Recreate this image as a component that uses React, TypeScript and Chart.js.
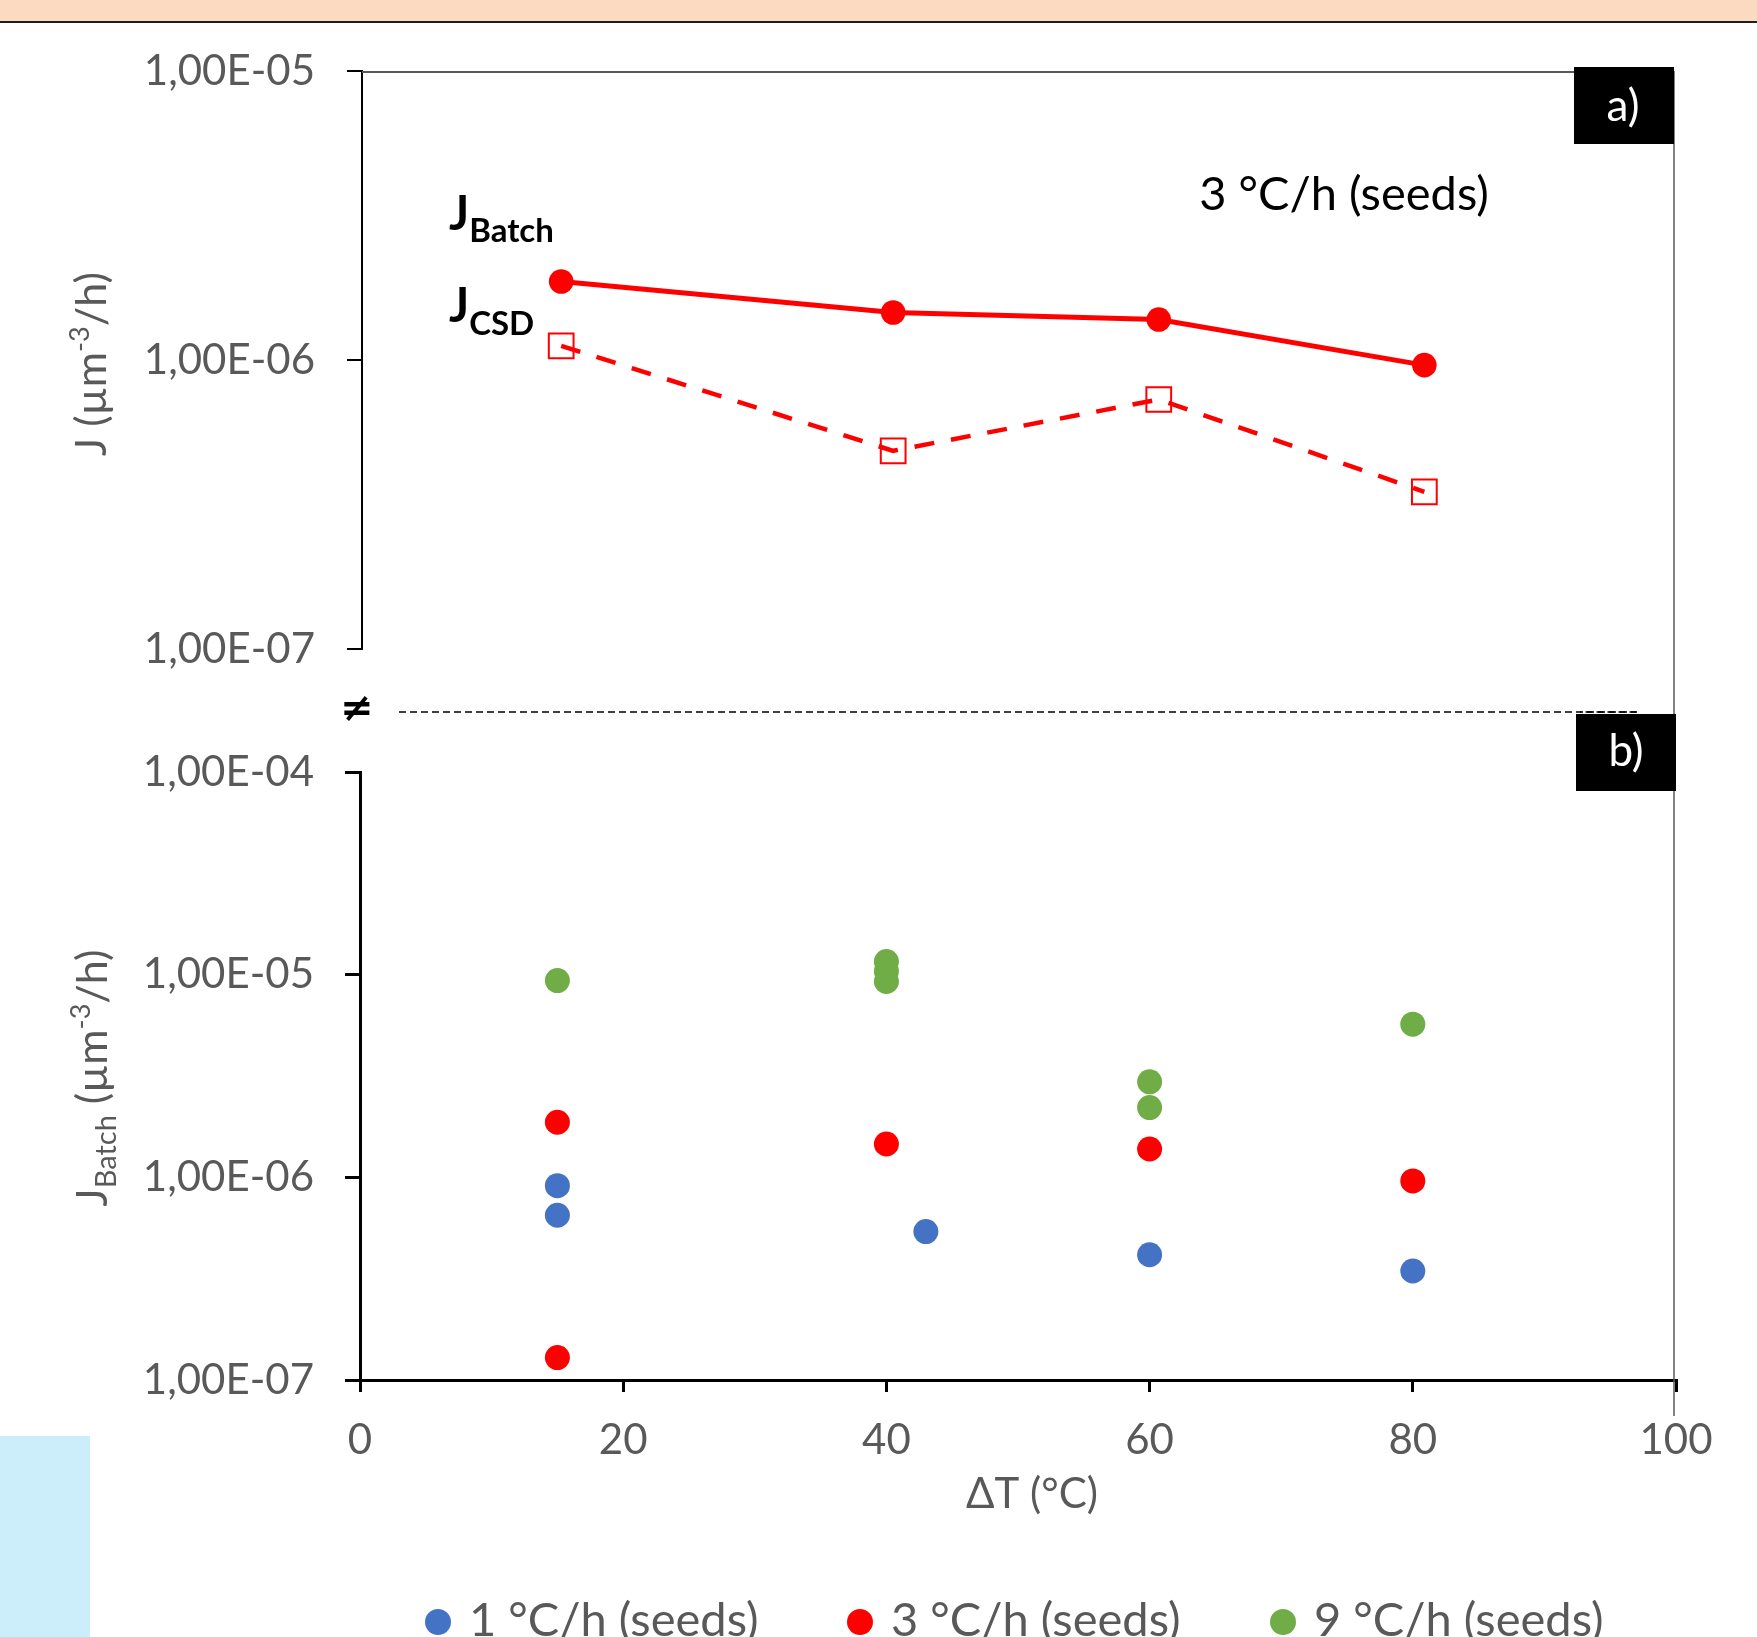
import React, { useEffect, useRef } from 'react';
import { Chart, registerables } from 'chart.js';

Chart.register(...registerables);

const FAMILY = 'Lato, "DejaVu Sans", sans-serif';
const GRAY = '#595959';

// ---------------- data ----------------
// panel a) : 3 °C/h (seeds)
const topDeltaT = [15, 40, 60, 80];
const topJBatch = [1.87e-6, 1.46e-6, 1.38e-6, 9.6e-7];
const topJCSD = [1.12e-6, 4.85e-7, 7.3e-7, 3.5e-7];

// panel b) : J_Batch for three cooling rates
const seriesLabels = ['1 °C/h (seeds)', '3 °C/h (seeds)', '9 °C/h (seeds)'];
const rate1DeltaT = [15, 15, 43, 60, 80];
const rate1J = [9.1e-7, 6.5e-7, 5.4e-7, 4.15e-7, 3.45e-7];
const rate3DeltaT = [15, 15, 40, 60, 80];
const rate3J = [1.87e-6, 1.29e-7, 1.46e-6, 1.38e-6, 9.6e-7];
const rate9DeltaT = [15, 40, 40, 40, 60, 60, 80];
const rate9J = [9.35e-6, 1.16e-5, 1.04e-5, 9.25e-6, 2.96e-6, 2.21e-6, 5.7e-6];

const topYTicks = [1e-7, 1e-6, 1e-5];
const bottomYTicks = [1e-7, 1e-6, 1e-5, 1e-4];
const xTicks = [0, 20, 40, 60, 80, 100];

const seriesColors = ['#4472C4', '#FF0000', '#70AD47'];

// ---------------- helpers ----------------
const sci = (v: number) => {
  const e = Math.round(Math.log10(v));
  const m = v / Math.pow(10, e);
  return m.toFixed(2).replace('.', ',') + 'E' + (e < 0 ? '-' : '+') + String(Math.abs(e)).padStart(2, '0');
};

type Seg = { t: string; size: number; bold?: boolean; dy?: number };
const fontOf = (s: Seg) => `${s.bold ? 'bold ' : ''}${s.size}px ${FAMILY}`;

function drawRich(
  ctx: CanvasRenderingContext2D,
  segs: Seg[],
  x: number,
  y: number,
  color: string,
  align: 'left' | 'center',
  rotate = false
) {
  ctx.save();
  ctx.textBaseline = 'alphabetic';
  ctx.textAlign = 'left';
  ctx.fillStyle = color;
  const widths = segs.map((s) => {
    ctx.font = fontOf(s);
    return ctx.measureText(s.t).width;
  });
  const total = widths.reduce((a, b) => a + b, 0);
  ctx.translate(x, y);
  if (rotate) ctx.rotate(-Math.PI / 2);
  let cx = align === 'center' ? -total / 2 : 0;
  segs.forEach((s, i) => {
    ctx.font = fontOf(s);
    ctx.fillText(s.t, cx, s.dy || 0);
    cx += widths[i];
  });
  ctx.restore();
}

const toPts = (xs: number[], ys: number[]) => xs.map((x, i) => ({ x, y: ys[i] }));

// ---------------- decorations ----------------
const topDecor = {
  id: 'topDecor',
  afterDraw(chart: any) {
    const ctx: CanvasRenderingContext2D = chart.ctx;
    const a = chart.chartArea;
    ctx.save();
    // top frame line
    ctx.strokeStyle = GRAY;
    ctx.lineWidth = 2;
    ctx.beginPath();
    ctx.moveTo(a.left, a.top + 1);
    ctx.lineTo(a.right, a.top + 1);
    ctx.stroke();
    // right frame line
    ctx.lineWidth = 1.5;
    ctx.beginPath();
    ctx.moveTo(a.right, a.top);
    ctx.lineTo(a.right, chart.height);
    ctx.stroke();
    // a) label box
    ctx.fillStyle = '#000';
    ctx.fillRect(a.right - 100, a.top - 4, 100, 77);
    ctx.fillStyle = '#fff';
    ctx.font = `44px ${FAMILY}`;
    ctx.textAlign = 'center';
    ctx.textBaseline = 'middle';
    ctx.fillText('a)', a.right - 51, a.top + 36);
    // series annotations
    drawRich(ctx, [{ t: 'J', size: 47, bold: true }, { t: 'Batch', size: 33, bold: true, dy: 12 }], 449, 230, '#000', 'left');
    drawRich(ctx, [{ t: 'J', size: 47, bold: true }, { t: 'CSD', size: 33, bold: true, dy: 13 }], 449, 322, '#000', 'left');
    ctx.fillStyle = '#000';
    ctx.font = `47px ${FAMILY}`;
    ctx.textAlign = 'center';
    ctx.textBaseline = 'alphabetic';
    ctx.fillText('3 °C/h (seeds)', 1344, 210);
    // y axis title
    drawRich(
      ctx,
      [
        { t: 'J (µm', size: 43 },
        { t: '-3', size: 27, dy: -17 },
        { t: '/h)', size: 43 },
      ],
      106,
      364,
      GRAY,
      'center',
      true
    );
    ctx.restore();
  },
};

const bottomDecor = {
  id: 'bottomDecor',
  afterDraw(chart: any) {
    const ctx: CanvasRenderingContext2D = chart.ctx;
    const a = chart.chartArea;
    ctx.save();
    // axis break line
    ctx.strokeStyle = '#000';
    ctx.lineWidth = 1.3;
    ctx.setLineDash([7, 4]);
    ctx.beginPath();
    ctx.moveTo(399, 22);
    ctx.lineTo(1637, 22);
    ctx.stroke();
    ctx.lineDashOffset = 5.5;
    ctx.beginPath();
    ctx.moveTo(1580, 22);
    ctx.lineTo(1637, 22);
    ctx.stroke();
    ctx.setLineDash([]);
    ctx.fillStyle = '#000';
    ctx.font = 'bold 40px "DejaVu Sans", sans-serif';
    ctx.textAlign = 'center';
    ctx.textBaseline = 'middle';
    ctx.fillText('≠', 357, 21);
    // right frame line
    ctx.strokeStyle = GRAY;
    ctx.lineWidth = 1.5;
    ctx.beginPath();
    ctx.moveTo(a.right - 2, 0);
    ctx.lineTo(a.right - 2, a.bottom + 36);
    ctx.stroke();
    // b) label box
    ctx.fillStyle = '#000';
    ctx.fillRect(a.right - 100, 24, 100, 77);
    ctx.fillStyle = '#fff';
    ctx.font = `44px ${FAMILY}`;
    ctx.fillText('b)', a.right - 50, 62);
    // y axis title
    drawRich(
      ctx,
      [
        { t: 'J', size: 43 },
        { t: 'Batch', size: 29, dy: 9 },
        { t: ' (µm', size: 43 },
        { t: '-3', size: 27, dy: -17 },
        { t: '/h)', size: 43 },
      ],
      107,
      388,
      GRAY,
      'center',
      true
    );
    // x axis title
    ctx.fillStyle = GRAY;
    ctx.font = `42px ${FAMILY}`;
    ctx.textAlign = 'center';
    ctx.textBaseline = 'middle';
    ctx.fillText('ΔT (°C)', 1032, 804);
    // legend
    const legendX = [438, 860, 1283];
    chart.data.datasets.forEach((ds: any, i: number) => {
      ctx.fillStyle = ds.backgroundColor;
      ctx.beginPath();
      ctx.arc(legendX[i], 932, 13, 0, Math.PI * 2);
      ctx.fill();
      ctx.fillStyle = GRAY;
      ctx.font = `47px ${FAMILY}`;
      ctx.textAlign = 'left';
      ctx.textBaseline = 'alphabetic';
      ctx.fillText(ds.label, legendX[i] + 31, 946);
    });
    ctx.restore();
  },
};

export default function App() {
  const topRef = useRef<HTMLCanvasElement>(null);
  const botRef = useRef<HTMLCanvasElement>(null);

  useEffect(() => {
    if (!topRef.current || !botRef.current) return;

    const tickFont = { family: FAMILY, size: 42 };

    const top = new Chart(topRef.current, {
      type: 'scatter',
      data: {
        datasets: [
          {
            label: 'J Batch',
            data: toPts(topDeltaT, topJBatch),
            showLine: true,
            borderColor: '#FF0000',
            backgroundColor: '#FF0000',
            borderWidth: 5,
            pointRadius: 12.3,
            pointBackgroundColor: '#FF0000',
            pointBorderColor: '#FF0000',
            pointBorderWidth: 0,
          },
          {
            label: 'J CSD',
            data: toPts(topDeltaT, topJCSD),
            showLine: true,
            borderColor: '#FF0000',
            backgroundColor: 'rgba(0,0,0,0)',
            borderWidth: 4.5,
            borderDash: [20, 17],
            pointStyle: 'rect',
            pointRadius: 17.5,
            pointBackgroundColor: 'rgba(0,0,0,0)',
            pointBorderColor: '#FF0000',
            pointBorderWidth: 2,
          },
        ],
      },
      options: {
        responsive: false,
        animation: false,
        devicePixelRatio: 1,
        events: [],
        layout: { padding: { left: 0, right: 83, top: 71, bottom: 41 } },
        plugins: { legend: { display: false }, tooltip: { enabled: false }, title: { display: false } },
        scales: {
          x: { type: 'linear', min: 0, max: 98.8, display: false },
          y: {
            type: 'logarithmic',
            min: 1e-7,
            max: 1e-5,
            afterBuildTicks: (s: any) => {
              s.ticks = topYTicks.map((v) => ({ value: v }));
            },
            afterFit: (s: any) => {
              s.width = 362;
              s.paddingTop = 0;
              s.paddingBottom = 0;
            },
            ticks: {
              callback: (v: any) => sci(Number(v)),
              font: tickFont,
              color: GRAY,
              padding: 32,
              autoSkip: false,
            },
            grid: { drawOnChartArea: false, drawTicks: true, tickLength: 15, color: '#000', lineWidth: 2 },
            border: { display: true, color: '#000', width: 2 },
          },
        },
      } as any,
      plugins: [topDecor],
    });

    const bottom = new Chart(botRef.current, {
      type: 'scatter',
      data: {
        datasets: [
          { label: seriesLabels[0], data: toPts(rate1DeltaT, rate1J), backgroundColor: seriesColors[0] },
          { label: seriesLabels[1], data: toPts(rate3DeltaT, rate3J), backgroundColor: seriesColors[1] },
          { label: seriesLabels[2], data: toPts(rate9DeltaT, rate9J), backgroundColor: seriesColors[2] },
        ].map((d) => ({
          ...d,
          pointRadius: 12.5,
          pointBorderWidth: 0,
          borderColor: d.backgroundColor,
          pointBackgroundColor: d.backgroundColor,
        })),
      },
      options: {
        responsive: false,
        animation: false,
        devicePixelRatio: 1,
        events: [],
        layout: { padding: { left: 0, right: 81, top: 82, bottom: 157 } },
        plugins: { legend: { display: false }, tooltip: { enabled: false }, title: { display: false } },
        scales: {
          x: {
            type: 'linear',
            min: 0,
            max: 100,
            afterBuildTicks: (s: any) => {
              s.ticks = xTicks.map((v) => ({ value: v }));
            },
            afterFit: (s: any) => {
              s.height = 100;
            },
            ticks: { font: tickFont, color: GRAY, padding: 23, maxRotation: 0, autoSkip: false },
            grid: { drawOnChartArea: false, drawTicks: true, tickLength: 12, color: '#000', lineWidth: 3 },
            border: { display: true, color: '#000', width: 3 },
          },
          y: {
            type: 'logarithmic',
            min: 1e-7,
            max: 1e-4,
            afterBuildTicks: (s: any) => {
              s.ticks = bottomYTicks.map((v) => ({ value: v }));
            },
            afterFit: (s: any) => {
              s.width = 360;
            },
            ticks: {
              callback: (v: any) => sci(Number(v)),
              font: tickFont,
              color: GRAY,
              padding: 31,
              autoSkip: false,
            },
            grid: { drawOnChartArea: false, drawTicks: true, tickLength: 15, color: '#000', lineWidth: 3 },
            border: { display: true, color: '#000', width: 3 },
          },
        },
      } as any,
      plugins: [bottomDecor],
    });

    return () => {
      top.destroy();
      bottom.destroy();
    };
  }, []);

  return (
    <div
      style={{
        position: 'fixed',
        left: 0,
        top: 0,
        width: 1757,
        height: 1637,
        overflow: 'hidden',
        background: '#ffffff',
      }}
    >
      <div
        style={{
          position: 'absolute',
          left: 0,
          top: 0,
          width: '100%',
          height: 21,
          background: '#FCD9C1',
          borderBottom: '2px solid #1F1F1F',
        }}
      />
      <div style={{ position: 'absolute', left: 0, top: 1436, width: 90, height: 201, background: '#CCEEFA' }} />
      <canvas ref={topRef} width={1757} height={690} style={{ position: 'absolute', left: 0, top: 0 }} />
      <canvas ref={botRef} width={1757} height={947} style={{ position: 'absolute', left: 0, top: 690 }} />
    </div>
  );
}
